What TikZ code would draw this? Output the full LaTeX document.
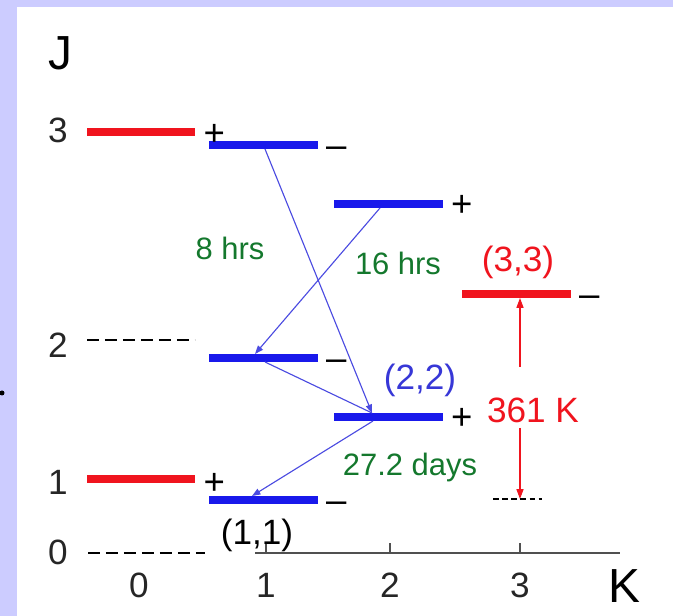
\documentclass[tikz,border=0pt]{standalone}
\usepackage{fontspec}
\setmainfont{Liberation Sans}
\usetikzlibrary{
  arrows.meta,
  positioning, calc
}
\definecolor{lavbg}{RGB}{204,204,255}
\definecolor{lvlred}{RGB}{240,20,30}
\definecolor{lvlblue}{RGB}{25,25,235}
\definecolor{arrblue}{RGB}{75,75,225}
\definecolor{lblgreen}{RGB}{20,120,45}
\definecolor{lblblue}{RGB}{55,55,215}
\definecolor{axisgray}{RGB}{80,80,80}
\tikzset{
  redlvl/.style={rectangle,fill=lvlred,draw=none,minimum width=2.72cm,
    minimum height=0.2cm,inner sep=0pt,outer sep=0pt},
  bluelvl/.style={rectangle,fill=lvlblue,draw=none,minimum width=2.72cm,
    minimum height=0.2cm,inner sep=0pt,outer sep=0pt},
  parity/.style={inner sep=0pt,text height=17.5pt,text depth=0pt,
    font=\fontsize{26}{28}\selectfont},
  numlbl/.style={inner sep=0pt,font=\fontsize{25}{27}\selectfont,text=black!85},
  axlbl/.style={inner sep=0pt,font=\fontsize{34}{36}\selectfont},
  timelbl/.style={inner sep=0pt,font=\fontsize{22}{24}\selectfont,text=lblgreen},
  statelbl/.style={inner sep=0pt,font=\fontsize{25}{27}\selectfont},
  lvldash/.style={line width=1.4pt,dash pattern=on 8.5pt off 4.3pt},
  blarr/.style={-{Triangle[length=6pt,width=4.5pt]},draw=arrblue,line width=0.8pt},
  redarr/.style={-{Triangle[length=7pt,width=5pt]},draw=lvlred,line width=0.8pt}
}

\begin{document}
\begin{tikzpicture}[x=0.025cm,y=0.025cm]

  \useasboundingbox (0,0) rectangle (673,616);

  % Frame
  \fill[lavbg] (0,0) rectangle (673,616);
  \fill[white] (17,0) rectangle (673,609);
  \fill[black] (2,223) circle (2.5);

  % J axis
  \node[axlbl] (jlbl) at (60,563) {J};
  \foreach \y/\j in {486/3,271/2,134/1,64/0}{
    \node[numlbl] (j\j) at (58,\y) {\j};
  }
  \draw[lvldash] (87,276) -- (195,276);
  \draw[lvldash] (88,63) -- (205,63);

  % K axis
  \draw[axisgray,line width=1.3pt] (255,63) -- (620,63);
  \foreach \x in {266,390,520}{
    \draw[axisgray,line width=1pt] (\x,63) -- (\x,73);
  }
  \foreach \x/\k in {139/0,266/1,390/2,520/3}{
    \node[numlbl] (k\k) at (\x,31) {\k};
  }
  \node[axlbl] (klbl) at (624,30) {K};

  % Levels
  \node[redlvl]  (l30) at (141,484)   {};
  \node[bluelvl] (l31) at (263.5,471) {};
  \node[bluelvl] (l32) at (388.5,412) {};
  \node[redlvl]  (l33) at (516.5,322) {};
  \node[bluelvl] (l21) at (263.5,258) {};
  \node[bluelvl] (l22) at (388.5,199) {};
  \node[redlvl]  (l10) at (141,137)   {};
  \node[bluelvl] (l11) at (263.5,116) {};

  % Parity
  \foreach \lv/\sg/\dy in {l30/+/-1,l31/–/0,l32/+/0,l33/–/0,l21/–/0,l22/+/0,l10/+/-3,l11/–/0}{
    \node[parity,right=0.2cm of \lv,yshift=\dy*0.025cm] (p\lv) {\sg};
  }

  % Decays
  \draw[blarr] ($(l31.south)+(1.5,0)$) -- ($(l22.north)+(-16.5,0)$);
  \draw[blarr] ($(l32.south)+(-8.5,0)$) -- ($(l21.north)+(-8.5,0)$);
  \draw[arrblue,line width=0.8pt] ($(l21.south)+(1.5,0)$) -- ($(l22.north)+(-16.5,0)$);
  \draw[blarr] ($(l22.south)+(-15.5,0)$) -- ($(l11.north)+(-11.5,0)$);

  \node[timelbl] (t8)  at (230,368) {8 hrs};
  \node[timelbl] (t16) at (398,353) {16 hrs};
  \node[timelbl] (t27) at (410,148) {27.2 days};

  % States
  \node[statelbl,text=lvlred]  (s33) at (518,354) {(3,3)};
  \node[statelbl,text=lblblue] (s22) at (420,236) {(2,2)};
  \node[statelbl,text=black]   (s11) at (257,81)  {(1,1)};

  % Gap to (3,3)
  \node[statelbl,text=lvlred] (gap) at (533,206) {361 K};
  \coordinate (upst) at (520,249);
  \coordinate (dnst) at (520,188);
  \coordinate (g11) at (520,117);
  \draw[redarr] (upst) -- (upst |- l33.south);
  \draw[redarr] (dnst) -- (g11);
  \draw[line width=0.9pt,dash pattern=on 4pt off 2.5pt] (493,117) -- (542,117);

\end{tikzpicture}
\end{document}
